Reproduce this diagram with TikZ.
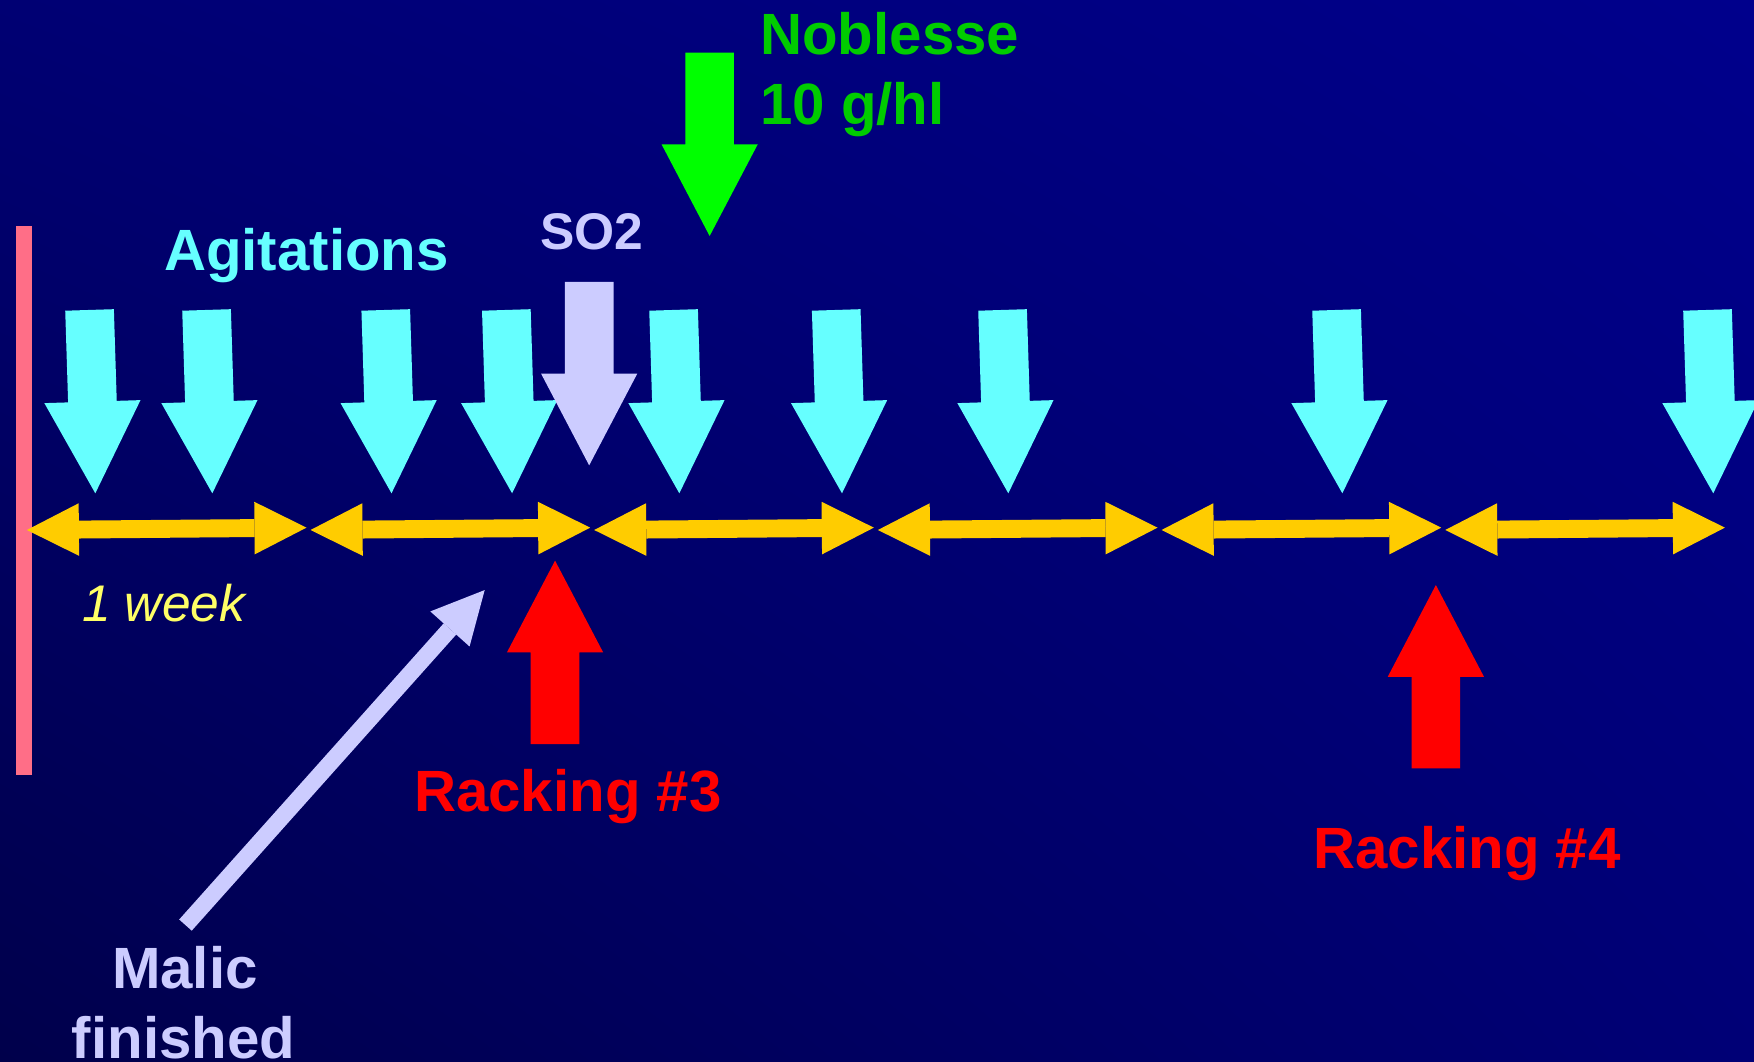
\documentclass[tikz,border=0pt]{standalone}
\usepackage{fontspec}
\setmainfont{Liberation Sans}
\usetikzlibrary{arrows.meta,shadings}
\definecolor{cian}{RGB}{102,255,255}
\definecolor{lila}{RGB}{204,204,255}
\definecolor{oro}{RGB}{255,204,0}
\definecolor{rosa}{RGB}{255,110,135}
\definecolor{verde}{RGB}{0,255,0}
\definecolor{verdeosc}{RGB}{0,204,0}
\definecolor{amarillo}{RGB}{255,255,102}
\definecolor{rojo}{RGB}{255,0,0}
\definecolor{fondoSI}{RGB}{0,0,115}
\definecolor{fondoSD}{RGB}{0,0,140}
\definecolor{fondoII}{RGB}{0,0,75}
\definecolor{fondoID}{RGB}{0,0,118}
\begin{document}
\begin{tikzpicture}[x=0.01cm,y=-0.01cm,
  flecha/.pic={\fill (0,0) -- (-43,-82) -- (-21.75,-82) -- (-21.75,-164)
    -- (21.75,-164) -- (21.75,-82) -- (43,-82) -- cycle;},
  agit/.style={color=cian,rotate=1.8},
  punta/.tip={Triangle[length=0.465cm,width=0.47cm,line width=0pt]},
  semana/.style={draw=oro,line width=0.16cm,punta-punta},
  rotulo/.style={inner sep=0pt,anchor=base,font=\fontsize{14.8}{18}\selectfont\bfseries},
  chico/.style={inner sep=0pt,anchor=base,font=\fontsize{13.1}{16}\selectfont}]
% Fondo
\useasboundingbox (0,0) rectangle (1568,949);
\shade[upper left=fondoSI,upper right=fondoSD,lower left=fondoII,lower right=fondoID]
  (0,0) rectangle (1568,949);
% Barra inicial
\fill[rosa] (14,202) rectangle (29,693);
% Semanas
\foreach \k in {0,...,5}
  \draw[semana] (24+253.6*\k,473.8) -- (274+253.6*\k,471.7);
% Agitaciones
\foreach \x in {85.2,189.8,350,457.8,607.3,752.7,901.4,1200,1531.6}
  \pic[agit] at (\x,441) {flecha};
% SO2 y Noblesse
\pic[color=lila] at (526.7,416) {flecha};
\pic[color=verde] at (634.4,211) {flecha};
% Trasiegos
\pic[color=rojo,rotate=180] at (496.2,501.2) {flecha};
\pic[color=rojo,rotate=180] at (1283.6,523) {flecha};
% Malolactica
\coordinate (MalicTail) at (165.8,827);
\coordinate (MalicTip) at (433.3,527.5);
\draw[lila,line width=0.15cm,-{Triangle[length=0.466cm,width=0.47cm,line width=0pt]}] (MalicTail) -- (MalicTip);
% Textos
\node[rotulo,cian] (Agitations) at (273.9,241.4) {Agitations};
\node[chico,lila,font=\fontsize{13.1}{16}\selectfont\bfseries] (SO2) at (529.2,222.9) {SO2};
\node[rotulo,verdeosc,anchor=base west] (Noblesse) at (679,48.3) {Noblesse};
\node[rotulo,verdeosc,anchor=base west] (Dose) at (679,111.2) {10 g/hl};
\node[chico,amarillo,font=\fontsize{13.1}{16}\selectfont\itshape] (Week) at (146.3,555.7) {1 week};
\node[rotulo,rojo] (Racking3) at (507.7,725.6) {Racking \#3};
\node[rotulo,rojo] (Racking4) at (1311.5,776.3) {Racking \#4};
\node[rotulo,lila] (Malic) at (165.3,883.6) {Malic};
\node[rotulo,lila] (Finished) at (164,946.6) {finished};
\end{tikzpicture}
\end{document}
